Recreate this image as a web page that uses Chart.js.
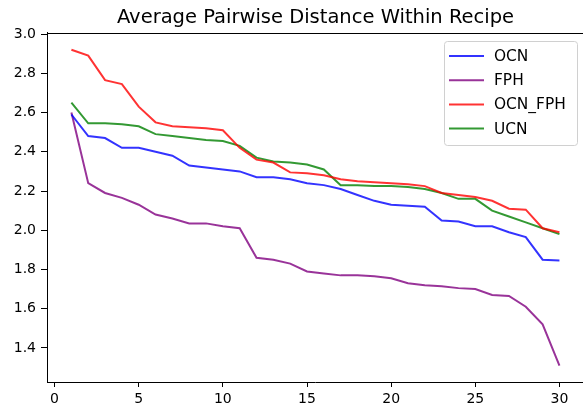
<!DOCTYPE html>
<html>
<head>
<meta charset="utf-8">
<script src="https://cdn.jsdelivr.net/npm/chart.js@4"></script>
<style>
  body { margin: 0; background: #fff; }
  canvas { display: block; }
</style>
</head>
<body>
<canvas id="grafico" width="583" height="409"></canvas>
<script>
// dados
const recipes = [1, 2, 3, 4, 5, 6, 7, 8, 9, 10, 11, 12, 13, 14, 15,
                 16, 17, 18, 19, 20, 21, 22, 23, 24, 25, 26, 27, 28, 29, 30];
const ocn = [2.59, 2.48, 2.47, 2.42, 2.42, 2.40, 2.38, 2.33, 2.32, 2.31,
             2.30, 2.27, 2.27, 2.26, 2.24, 2.23, 2.21, 2.18, 2.15, 2.13,
             2.125, 2.12, 2.05, 2.045, 2.02, 2.02, 1.99, 1.965, 1.85, 1.846];
const fph = [2.60, 2.24, 2.19, 2.165, 2.13, 2.08, 2.06, 2.035, 2.035, 2.02,
             2.01, 1.86, 1.85, 1.83, 1.79, 1.78, 1.77, 1.77, 1.765, 1.755,
             1.73, 1.72, 1.715, 1.705, 1.70, 1.67, 1.665, 1.61, 1.52, 1.31];
const ocnFph = [2.92, 2.89, 2.765, 2.745, 2.63, 2.55, 2.53, 2.525, 2.52, 2.51,
                2.42, 2.36, 2.345, 2.295, 2.29, 2.28, 2.26, 2.25, 2.245, 2.24,
                2.235, 2.225, 2.19, 2.18, 2.17, 2.15, 2.11, 2.105, 2.01, 1.99];
const ucn = [2.65, 2.545, 2.545, 2.54, 2.53, 2.49, 2.48, 2.47, 2.46, 2.455,
             2.43, 2.37, 2.35, 2.345, 2.335, 2.31, 2.23, 2.23, 2.225, 2.225,
             2.22, 2.21, 2.19, 2.16, 2.16, 2.10, 2.07, 2.04, 2.01, 1.98];
const seriesNames = ['OCN', 'FPH', 'OCN_FPH', 'UCN'];
const xTicks = [0, 5, 10, 15, 20, 25, 30];
const yTicks = [1.4, 1.6, 1.8, 2.0, 2.2, 2.4, 2.6, 2.8, 3.0];

const cores = ['rgba(0,0,255,0.8)', 'rgba(128,0,128,0.8)', 'rgba(255,0,0,0.8)', 'rgba(0,128,0,0.8)'];
const fonte = 'DejaVu Sans';

function serie(nome, valores, cor) {
    return {
        label: nome,
        data: recipes.map((r, i) => ({ x: r, y: valores[i] })),
        borderColor: cor,
        backgroundColor: cor,
        borderWidth: 2,
        pointRadius: 0,
        tension: 0,
        fill: false
    };
}

// título centrado sobre a área do gráfico, como no matplotlib
const tituloPlugin = {
    id: 'titulo',
    afterDraw(chart) {
        const ctx = chart.ctx;
        const a = chart.chartArea;
        ctx.save();
        ctx.font = '19.5px "' + fonte + '"';
        ctx.fillStyle = '#000';
        ctx.textAlign = 'center';
        ctx.textBaseline = 'middle';
        ctx.fillText('Average Pairwise Distance Within Recipe', (a.left + 584) / 2, 18);
        // linha de cima do quadro
        ctx.strokeStyle = '#000';
        ctx.lineWidth = 1;
        ctx.beginPath();
        ctx.moveTo(a.left, Math.round(a.top) + 0.5);
        ctx.lineTo(583, Math.round(a.top) + 0.5);
        ctx.stroke();
        ctx.restore();
    }
};

// legenda com caixa arredondada no canto superior direito
const legendaPlugin = {
    id: 'legenda',
    afterDatasetsDraw(chart) {
        const ctx = chart.ctx;
        const x0 = 444.5, y0 = 41.5, w = 133, h = 104;
        ctx.save();
        ctx.beginPath();
        ctx.roundRect(x0, y0, w, h, 3);
        ctx.fillStyle = 'rgba(255,255,255,0.8)';
        ctx.fill();
        ctx.strokeStyle = '#d0d0d0';
        ctx.lineWidth = 1;
        ctx.stroke();
        ctx.font = '15.4px "' + fonte + '"';
        ctx.textBaseline = 'middle';
        chart.data.datasets.forEach((ds, i) => {
            const y = 56 + i * 24.2;
            ctx.strokeStyle = ds.borderColor;
            ctx.lineWidth = 2;
            ctx.beginPath();
            ctx.moveTo(449, y);
            ctx.lineTo(484, y);
            ctx.stroke();
            ctx.fillStyle = '#000';
            ctx.fillText(ds.label, 494, y + 1);
        });
        ctx.restore();
    }
};

new Chart(document.getElementById('grafico'), {
    type: 'line',
    data: {
        datasets: [
            serie(seriesNames[0], ocn, cores[0]),
            serie(seriesNames[1], fph, cores[1]),
            serie(seriesNames[2], ocnFph, cores[2]),
            serie(seriesNames[3], ucn, cores[3])
        ]
    },
    options: {
        responsive: false,
        animation: false,
        devicePixelRatio: 1,
        layout: { padding: { top: 32.5, left: 0, right: 0, bottom: 0 } },
        plugins: {
            legend: { display: false },
            title: { display: false },
            tooltip: { enabled: false }
        },
        scales: {
            x: {
                type: 'linear',
                min: -0.45,
                max: 31.4,
                afterBuildTicks: s => { s.ticks = xTicks.map(v => ({ value: v })); },
                afterFit: s => { s.height = 27; },
                grid: { display: true, drawOnChartArea: false, drawTicks: true, tickLength: 5, color: '#000' },
                border: { display: true, color: '#000' },
                ticks: { font: { family: fonte, size: 14 }, color: '#000', padding: 4, maxRotation: 0 }
            },
            y: {
                min: 1.2265,
                max: 3.008,
                afterBuildTicks: s => { s.ticks = yTicks.map(v => ({ value: v })); },
                afterFit: s => { s.width = 47; },
                grid: { display: true, drawOnChartArea: false, drawTicks: true, tickLength: 6, color: '#000' },
                border: { display: true, color: '#000' },
                ticks: {
                    font: { family: fonte, size: 14 },
                    color: '#000',
                    padding: 5,
                    callback: v => v.toFixed(1)
                }
            }
        }
    },
    plugins: [tituloPlugin, legendaPlugin]
});
</script>
</body>
</html>
